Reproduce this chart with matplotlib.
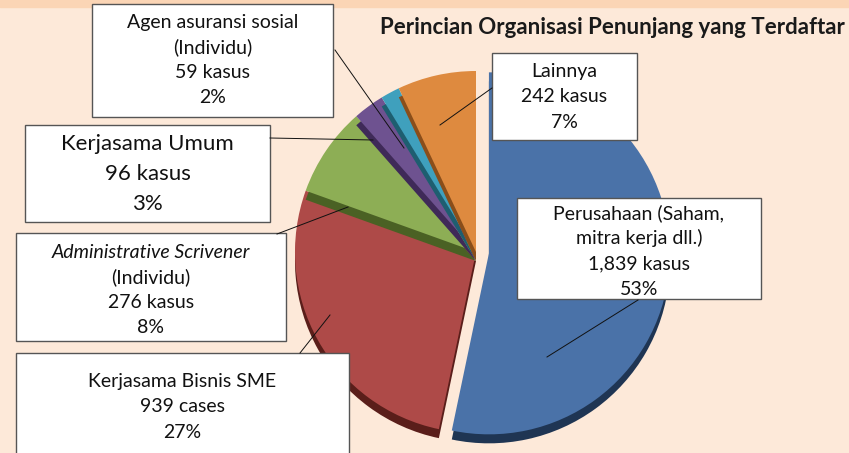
import matplotlib.pyplot as plt
from matplotlib.patches import Rectangle

# data
categories = ["Perusahaan (Saham,\nmitra kerja dll.)", "Kerjasama Bisnis SME",
              "Administrative Scrivener\n(Individu)", "Kerjasama Umum",
              "Agen asuransi sosial\n(Individu)", "Lainnya"]
cases = [1839, 939, 276, 96, 59, 242]
case_text = ["1,839 kasus", "939 cases", "276 kasus", "96 kasus", "59 kasus", "242 kasus"]
pct_text = ["53%", "27%", "8%", "3%", "2%", "7%"]
colors = ["#4A72A8", "#AE4A48", "#8DAE55", "#6E5290", "#3FA0BD", "#DE8A3F"]
dark = ["#1F3553", "#5A1E1A", "#4A6124", "#3F2A58", "#1E5E70", "#8A4E1A"]
title = "Perincian Organisasi Penunjang yang Terdaftar"

W, H = 849, 453
bg = "#FDE9D9"
plt.rcParams["font.family"] = ["Lato", "DejaVu Sans"]

fig = plt.figure(figsize=(W / 100, H / 100), dpi=100, facecolor=bg)
ax = fig.add_axes([0, 0, 1, 1])
ax.set_facecolor(bg)

cx, cy, r = 476, 252, 181
explode = [13, 0, 0, 0, 0, 0]  # data units (pixels here)
# y axis is inverted below, so counterclock=True runs clockwise on screen
shadow, _ = ax.pie(cases, colors=dark, center=(cx, cy + 9), radius=r,
                   startangle=-90, counterclock=True, explode=explode,
                   wedgeprops=dict(linewidth=0))
top, _ = ax.pie(cases, colors=colors, center=(cx, cy), radius=r,
                startangle=-90, counterclock=True, explode=explode,
                wedgeprops=dict(linewidth=0))
# draw back to front so the side of each slice shows over the previous one
order = [1, 2, 3, 4, 5, 0]
for k, i in enumerate(order):
    shadow[i].set_zorder(2 + 2 * k)
    top[i].set_zorder(3 + 2 * k)

ax.set_xlim(0, W)
ax.set_ylim(H, 0)
ax.set_aspect("equal")
ax.axis("off")

# top band
ax.add_patch(Rectangle((0, 0), W, 7, color="#FBD5B5", zorder=1))

ax.text(845, 27, title, ha="right", va="center", fontsize=16,
        fontweight="bold", color="#1a1a1a", zorder=30)

# label boxes: (x0, y0, x1, y1), line spacing, font size
boxes = {
    0: ((517, 198, 761, 299), 25.5, 14),
    1: ((16, 353, 349, 460), 25, 14),
    2: ((16, 233, 286, 341), 25, 14),
    3: ((25, 125, 270, 222), 29.5, 16),
    4: ((92, 4, 333, 117), 25, 14),
    5: ((492, 53, 637, 140), 25, 14),
}
centers_y = {0: 251, 1: 407, 2: 290, 3: 174, 4: 60, 5: 97}
leaders = {
    0: ((638, 300), (547, 357)),
    1: ((300, 353), (330, 315)),
    2: ((277, 234), (348, 207)),
    3: ((270, 138), (373, 140)),
    4: ((335, 50), (404, 148)),
    5: ((492, 88), (440, 125)),
}

for i in range(len(cases)):
    (x0, y0, x1, y1), sp, fs = boxes[i]
    ax.add_patch(Rectangle((x0, y0), x1 - x0, y1 - y0, facecolor="white",
                           edgecolor="#555555", linewidth=1, zorder=20))
    (a, b) = leaders[i]
    ax.plot([a[0], b[0]], [a[1], b[1]], color="#111111", linewidth=0.7, zorder=21)
    lines = categories[i].split("\n") + [case_text[i], pct_text[i]]
    n = len(lines)
    xm = (x0 + x1) / 2
    for j, line in enumerate(lines):
        y = centers_y[i] + (j - (n - 1) / 2) * sp
        style = "italic" if (i == 2 and j == 0) else "normal"
        ax.text(xm, y, line, ha="center", va="center", fontsize=fs,
                fontstyle=style, color="#111111", zorder=22)

fig.savefig("out.png", dpi=100, facecolor=bg)
